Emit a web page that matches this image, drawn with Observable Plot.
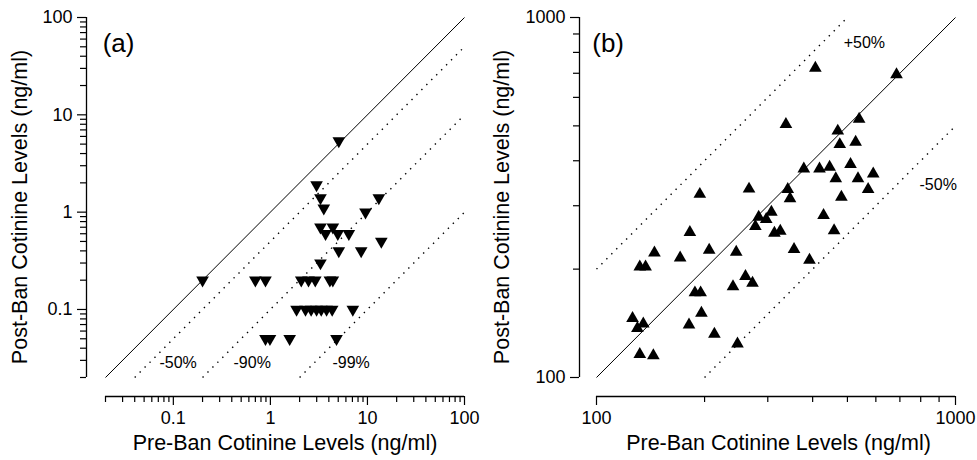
<!DOCTYPE html>
<html><head><meta charset="utf-8">
<script src="https://cdn.jsdelivr.net/npm/d3@7"></script>
<script src="https://cdn.jsdelivr.net/npm/@observablehq/plot@0.6"></script>
<style>
body{margin:0;background:#fff;}
#wrap{display:flex;width:977px;height:460px;overflow:hidden;}
#wrap svg{display:block;flex:none;}
</style></head><body><div id="wrap"></div>
<script>
// ---- Panel (a): pre-ban vs post-ban cotinine (ng/ml), down triangles
const preA  = [5.07, 2.99, 3.28, 3.55, 13.1, 9.55, 3.28, 4.40, 3.70, 4.95, 6.43, 13.9, 5.07, 8.62, 3.28,
               0.20, 0.70, 0.89, 2.08, 2.47, 2.90, 4.10, 4.40,
               1.86, 2.30, 2.63, 2.99, 3.34, 3.79, 4.33, 7.07,
               0.89, 0.99, 1.58, 4.80];
const postA = [5.4, 1.9, 1.4, 1.1, 1.4, 1.0, 0.7, 0.7, 0.6, 0.6, 0.6, 0.5, 0.4, 0.4, 0.3,
               0.2, 0.2, 0.2, 0.2, 0.2, 0.2, 0.2, 0.2,
               0.1, 0.1, 0.1, 0.1, 0.1, 0.1, 0.1, 0.1,
               0.05, 0.05, 0.05, 0.05];
// ---- Panel (b): up triangles
const preB  = [407, 685, 337, 539, 470, 476, 527, 378, 418, 446, 510, 590, 464, 535, 571, 266, 341, 346, 481,
               283, 307, 297, 277, 313, 325, 429, 459, 245, 355, 392, 194, 182, 145, 171, 206, 132, 137,
               188, 195, 240, 126, 135, 130, 196, 181, 213, 247, 132, 144, 260, 272];
const postB = [724, 694, 505, 522, 484, 444, 451, 380, 380, 384, 391, 368, 357, 357, 333, 334, 333, 314, 317,
               279, 288, 275, 263, 252, 255, 282, 256, 223, 227, 212, 323, 253, 222, 215, 226, 203, 203,
               172, 172, 179, 146, 141, 137, 151, 140, 132, 124, 116, 115, 191, 183];

// reference lines: post = ratio * pre, drawn from pre=from to pre=to
const refRatioA = [1, 0.5, 0.1, 0.01];
const refFromA  = [0.02, 0.04, 0.2, 2];
const refToA    = [100, 100, 100, 100];
const refRatioB = [1, 2, 0.5];
const refFromB  = [100, 100, 200];
const refToB    = [1000, 500, 1000];

// annotations
const noteTextA = ["-50%", "-90%", "-99%"];
const noteXA    = [0.072, 0.417, 4.36];
const noteYA    = [0.028, 0.028, 0.028];
const noteTextB = ["+50%", "-50%"];
const noteXB    = [488, 794];
const noteYB    = [848, 342];

// ticks
const majorTicksA = [0.1, 1, 10, 100];
const minorTicksA = [0.02,0.03,0.04,0.05,0.06,0.07,0.08,0.09,
                     0.2,0.3,0.4,0.5,0.6,0.7,0.8,0.9,
                     2,3,4,5,6,7,8,9, 20,30,40,50,60,70,80,90];
const majorTicksB = [100, 1000];
const minorTicksB = [200,300,400,500,600,700,800,900];

const xTitle = "Pre-Ban Cotinine Levels (ng/ml)";
const yTitle = "Post-Ban Cotinine Levels (ng/ml)";

const FONT = "'Liberation Sans', Arial, Helvetica, sans-serif";

const triDown = {draw(ctx, size){const y=Math.sqrt(size/(Math.sqrt(3)*3));ctx.moveTo(0,2*y);ctx.lineTo(Math.sqrt(3)*y,-y);ctx.lineTo(-Math.sqrt(3)*y,-y);ctx.closePath();}};
const triUp   = {draw(ctx, size){const y=-Math.sqrt(size/(Math.sqrt(3)*3));ctx.moveTo(0,2*y);ctx.lineTo(-Math.sqrt(3)*y,-y);ctx.lineTo(Math.sqrt(3)*y,-y);ctx.closePath();}};

function panel({pre, post, sym, refRatio, refFrom, refTo, noteText, noteX, noteY, panelLabel, panelX, panelY,
                domain, major, minor, width, marginLeft, marginRight, inset, titleDxX, titleDxY}) {
  const pts = pre.map((p, i) => ({pre: p, post: post[i]}));
  const lines = refRatio.map((r, i) => ({r, from: refFrom[i], to: refTo[i]}));
  const solid = lines.filter(d => d.r === 1);
  const dotted = lines.filter(d => d.r !== 1);
  const notes = noteText.map((t, i) => ({t, x: noteX[i], y: noteY[i]}));
  const fmt = d => String(d);
  return Plot.plot({
    width, height: 460, marginLeft, marginRight, marginTop: 17, marginBottom: 64,
    style: {fontFamily: FONT, fontSize: "18px", color: "black", background: "white"},
    x: {type: "log", domain, insetLeft: inset},
    y: {type: "log", domain, insetBottom: 19},
    marks: [
      // axis lines
      Plot.ruleX([domain[0]], {y1: domain[0], y2: domain[1], dx: -inset, stroke: "black", strokeWidth: 1.3}),
      Plot.ruleY([domain[0]], {x1: domain[0], x2: domain[1], dy: 19, stroke: "black", strokeWidth: 1.3}),
      Plot.axisX({ticks: minor, tickSize: 6, tickFormat: () => "", label: null, strokeWidth: 1.2}),
      Plot.axisX({ticks: major, tickSize: 9, tickPadding: 6, tickFormat: fmt, label: null, strokeWidth: 1.2, fontSize: 18}),
      Plot.axisY({ticks: minor, tickSize: 6, tickFormat: () => "", label: null, strokeWidth: 1.2}),
      Plot.axisY({ticks: major, tickSize: 9, tickPadding: 5, tickFormat: fmt, label: null, strokeWidth: 1.2, fontSize: 18}),
      // reference lines
      Plot.link(solid, {x1: "from", y1: d => d.from * d.r, x2: "to", y2: d => d.to * d.r, stroke: "black", strokeWidth: 1}),
      Plot.link(dotted, {x1: "from", y1: d => d.from * d.r, x2: "to", y2: d => d.to * d.r, stroke: "black",
                         strokeWidth: 1.4, strokeDasharray: "1.4,5.6"}),
      // data
      Plot.dot(pts, {x: "pre", y: "post", symbol: sym, r: 4.7, fill: "black", stroke: "none"}),
      // annotations
      Plot.text(notes, {x: "x", y: "y", text: "t", textAnchor: "start", lineAnchor: "middle", fontSize: 16, fill: "black"}),
      Plot.text([panelLabel], {x: panelX, y: panelY, text: d => d, textAnchor: "start", lineAnchor: "middle", fontSize: 26, fill: "black"}),
      // axis titles
      Plot.text([xTitle], {frameAnchor: "bottom", text: d => d, textAnchor: "middle", lineAnchor: "middle", dx: titleDxX, dy: 47, fontSize: 21.5, fill: "black"}),
      Plot.text([yTitle], {frameAnchor: "left", text: d => d, textAnchor: "middle", lineAnchor: "middle", rotate: -90, dx: titleDxY, fontSize: 21.5, fill: "black"})
    ]
  });
}

const wrap = document.getElementById("wrap");
wrap.append(panel({
  pre: preA, post: postA, sym: triDown, refRatio: refRatioA, refFrom: refFromA, refTo: refToA,
  noteText: noteTextA, noteX: noteXA, noteY: noteYA, panelLabel: "(a)", panelX: 0.0187, panelY: 54,
  domain: [0.02, 100], major: majorTicksA, minor: minorTicksA,
  width: 488, marginLeft: 86, marginRight: 24, inset: 19, titleDxX: 9.5, titleDxY: -66
}));
wrap.append(panel({
  pre: preB, post: postB, sym: triUp, refRatio: refRatioB, refFrom: refFromB, refTo: refToB,
  noteText: noteTextB, noteX: noteXB, noteY: noteYB, panelLabel: "(b)", panelX: 97.3, panelY: 848,
  domain: [100, 1000], major: majorTicksB, minor: minorTicksB,
  width: 489, marginLeft: 91, marginRight: 22, inset: 17, titleDxX: 11, titleDxY: -77
}));
</script></body></html>
